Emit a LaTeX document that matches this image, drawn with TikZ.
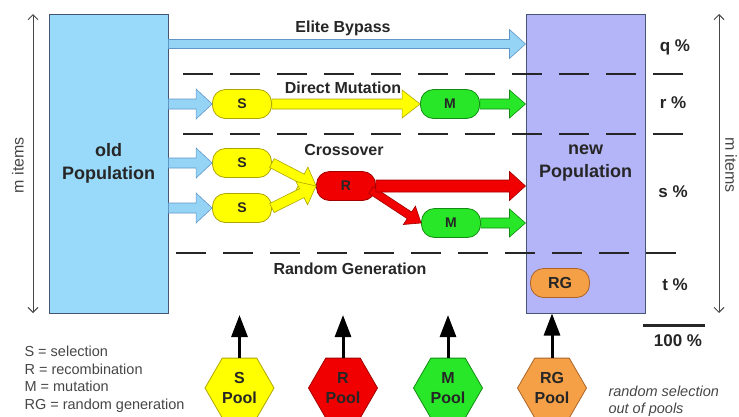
\documentclass[tikz,border=0pt]{standalone}
\usepackage{fontspec}
\setmainfont{Liberation Sans}
\usetikzlibrary{calc,shapes.geometric,arrows.meta}

\definecolor{popblue}{RGB}{153,217,249}
\definecolor{popbord}{RGB}{70,85,115}
\definecolor{lav}{RGB}{180,180,248}
\definecolor{arrblue}{RGB}{150,212,245}
\definecolor{arrblueb}{RGB}{95,150,200}
\definecolor{yel}{RGB}{255,255,0}
\definecolor{yelb}{RGB}{175,165,0}
\definecolor{grn}{RGB}{40,230,40}
\definecolor{grnb}{RGB}{20,140,20}
\definecolor{redf}{RGB}{240,0,0}
\definecolor{redb}{RGB}{160,0,0}
\definecolor{org}{RGB}{245,160,70}
\definecolor{orgb}{RGB}{170,100,40}
\definecolor{txtgray}{RGB}{70,70,70}

\newcommand\blockarrow[6]{%
  \coordinate (baA) at (#2);
  \coordinate (baB) at (#3);
  \coordinate (baC) at ($(baB)!#6!(baA)$);
  \draw[#1] ($(baA)!#4!90:(baB)$) -- ($(baC)!#4!-90:(baA)$) -- ($(baC)!#5!-90:(baA)$) -- (baB) -- ($(baC)!#5!90:(baA)$) -- ($(baC)!#4!90:(baA)$) -- ($(baA)!#4!-90:(baB)$) -- cycle;}

\begin{document}
\begin{tikzpicture}[x=1pt,y=-1pt,
  popbox/.style={rectangle, draw=popbord, line width=1pt, minimum width=119pt, minimum height=299pt, inner sep=0pt, align=center, font=\bfseries\fontsize{18}{23}\selectfont, text=black!85},
  pill/.style={rectangle, rounded corners=13pt, minimum width=59pt, minimum height=29pt, inner sep=0pt, line width=0.8pt, font=\bfseries\fontsize{14}{14}\selectfont, text=black!85},
  ynode/.style={pill, fill=yel, draw=yelb},
  gnode/.style={pill, fill=grn, draw=grnb},
  rnode/.style={pill, fill=redf, draw=redb},
  onode/.style={pill, fill=org, draw=orgb, font=\bfseries\fontsize{16}{16}\selectfont},
  pool/.style={regular polygon, regular polygon sides=6, minimum size=69pt, inner sep=0pt, line width=0.8pt, align=center, font=\bfseries\fontsize{16}{20}\selectfont, text=black!85},
  blueArr/.style={fill=arrblue, draw=arrblueb, line width=0.6pt, line join=miter},
  yelArr/.style={fill=yel, draw=yelb, line width=0.6pt, line join=miter},
  grnArr/.style={fill=grn, draw=grnb, line width=0.6pt, line join=miter},
  redArr/.style={fill=redf, draw=redb, line width=0.6pt, line join=miter},
  dashline/.style={line width=1.8pt, black!85, dash pattern=on 30pt off 17pt},
  lbl/.style={font=\bfseries\fontsize{16}{16}\selectfont, text=black!85},
  pct/.style={font=\bfseries\fontsize{17}{17}\selectfont, text=black!85},
  itemsarrow/.style={line width=0.9pt, txtgray, {Straight Barb[length=5pt,width=10pt]}-{Straight Barb[length=5pt,width=10pt]}},
  poolarrow/.style={line width=3pt, black, -{Triangle[length=22pt,width=16pt]}},
  legend/.style={font=\fontsize{14.5}{17.5}\selectfont, text=txtgray, align=left, anchor=west}
]
\useasboundingbox (0,0) rectangle (739,416);

% populations
\node[popbox, fill=popblue] (old) at (108.5,163.5) {\raisebox{-2pt}{old}\\\raisebox{-2pt}{Population}};
\node[popbox, fill=lav] (new) at (585.5,163.5) {new\\Population};

% m items arrows
\coordinate (lt) at (33,14);
\coordinate (lb) at (33,313);
\coordinate (rt) at (719,14);
\coordinate (rb) at (719,313);
\draw[itemsarrow] (lt) -- (lb);
\draw[itemsarrow] (rt) -- (rb);
\node[rotate=90, font=\fontsize{16}{16}\selectfont, text=txtgray] (mil) at (18,165) {m items};
\node[rotate=-90, font=\fontsize{16}{16}\selectfont, text=txtgray] (mir) at (731,165) {m items};

% dashed separators
\draw[dashline] (183,74) -- (690,74);
\draw[dashline] (183,134) -- (690,134);
\draw[dashline] (176,253) -- (683,253);

% section labels
\node[lbl] (lElite) at (343,28) {Elite Bypass};
\node[lbl] (lDirect) at (343,88) {Direct Mutation};
\node[lbl] (lCross) at (344,150) {Crossover};
\node[lbl] (lRand) at (350,269) {Random Generation};

% operator nodes
\node[ynode] (S0) at (242,104) {S};
\node[gnode] (M0) at (450,104) {M};
\node[ynode] (S1) at (242,163) {S};
\node[ynode] (S2) at (242,208) {S};
\node[rnode] (R) at (346,186) {R};
\node[gnode] (M2) at (451,223) {M};
\node[onode] (RG) at (560,283) {RG};

% block arrows
\coordinate (yE) at (0,44);
\coordinate (Rdiag) at ($(R.east)+(-5,4)$);
\blockarrow{blueArr}{old.east |- yE}{new.west |- yE}{4.5pt}{14.5pt}{16pt}
\blockarrow{blueArr}{old.east |- S0.west}{S0.west}{5pt}{15pt}{16pt}
\blockarrow{yelArr}{S0.east}{M0.west}{5pt}{14pt}{18pt}
\blockarrow{grnArr}{M0.east}{new.west |- M0.east}{5pt}{14pt}{16pt}
\blockarrow{blueArr}{old.east |- S1.west}{S1.west}{5pt}{15pt}{16pt}
\blockarrow{blueArr}{old.east |- S2.west}{S2.west}{5pt}{15pt}{16pt}
\blockarrow{yelArr}{S1.east}{R.west}{5pt}{13pt}{16pt}
\blockarrow{yelArr}{S2.east}{R.west}{5pt}{13pt}{16pt}
\blockarrow{redArr}{Rdiag}{M2.west}{4pt}{11pt}{14pt}
\blockarrow{redArr}{R.east}{new.west |- R.east}{6pt}{14.5pt}{16pt}
\blockarrow{grnArr}{M2.east}{new.west |- M2.east}{5pt}{14pt}{16pt}

% percentages
\node[pct] (q) at (675,47) {q \%};
\node[pct] (r) at (673,103) {r \%};
\node[pct] (s) at (673,192) {s \%};
\node[pct] (t) at (675,285) {t \%};
\coordinate (hl) at (643,325);
\coordinate (hr) at (705,325);
\draw[line width=3pt, black!85] (hl) -- (hr);
\node[pct] (hundred) at (678,341) {100 \%};

% pools
\node[pool, fill=yel, draw=yelb] (SP) at (239.5,388) {S\\Pool};
\node[pool, fill=redf, draw=redb] (RP) at (343,388) {R\\Pool};
\node[pool, fill=grn, draw=grnb] (MP) at (448,388) {M\\Pool};
\node[pool, fill=org, draw=orgb] (RGP) at (552,388) {RG\\Pool};
\coordinate (tipy) at (0,315);
\draw[poolarrow] (SP.north) -- (SP.north |- tipy);
\draw[poolarrow] (RP.north) -- (RP.north |- tipy);
\draw[poolarrow] (MP.north) -- (MP.north |- tipy);
\draw[poolarrow] (RGP.north) -- (RGP.north |- new.south);

% legend
\node[legend] (leg) at (21,379) {S = selection\\R = recombination\\M = mutation\\RG = random generation};
\node[legend, font=\itshape\fontsize{14.5}{17}\selectfont] (rs) at (605,401.5) {random selection\\out of pools};
\end{tikzpicture}
\end{document}
